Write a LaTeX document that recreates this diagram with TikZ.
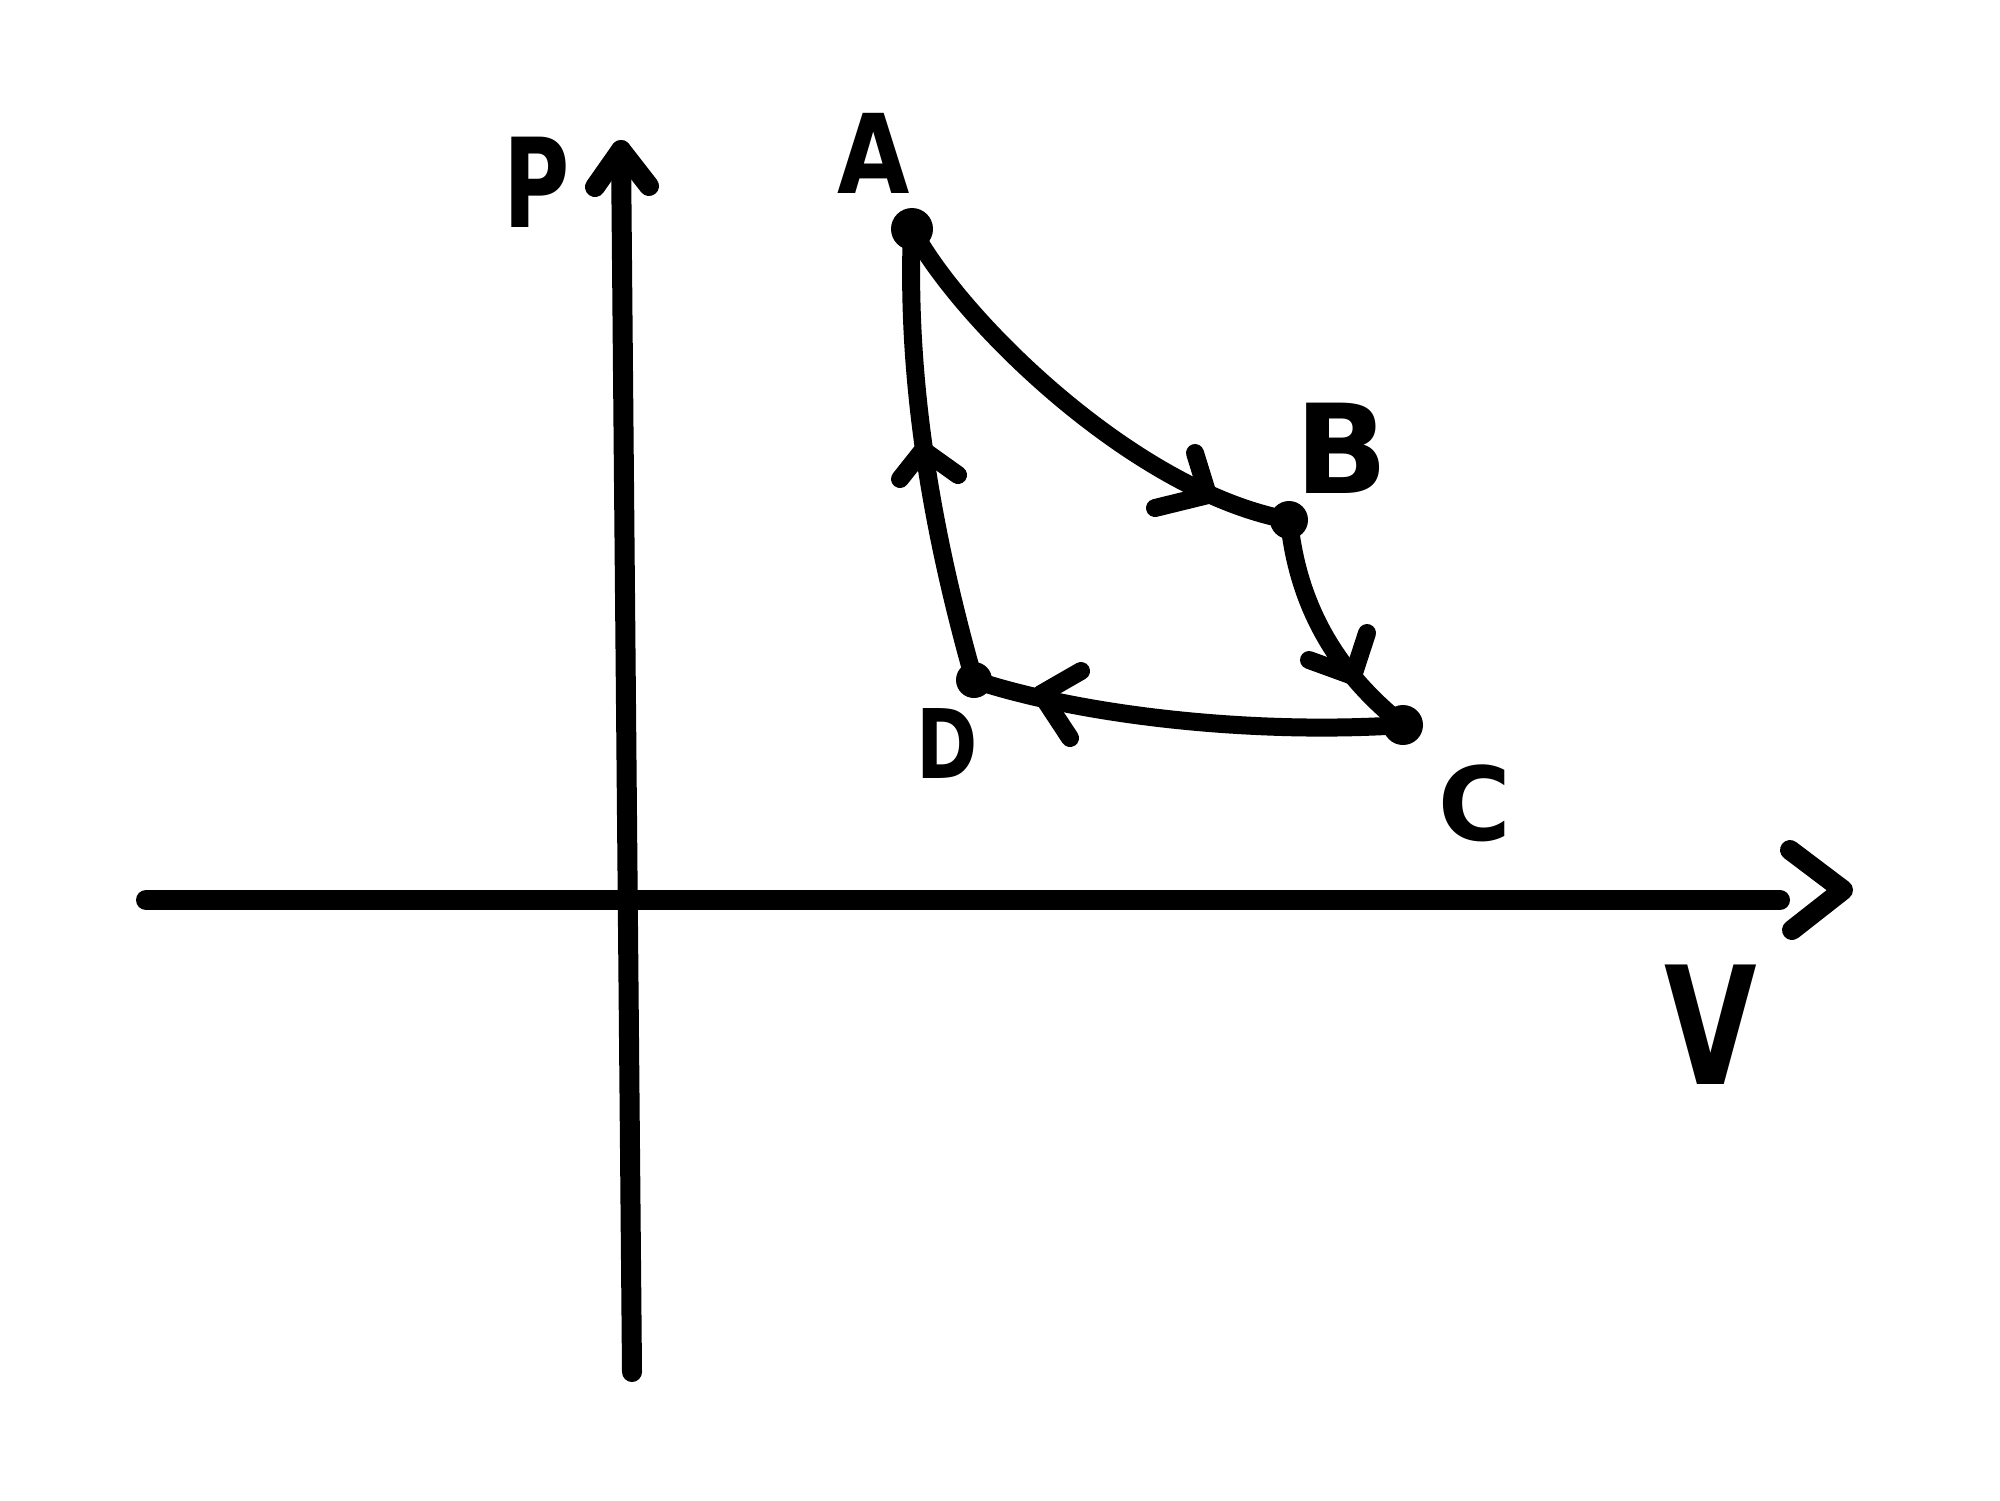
\documentclass[tikz,border=0pt]{standalone}
\usepackage{graphicx}
\usepackage{fontspec}
\setmainfont{DejaVu Sans}
\begin{document}
\begin{tikzpicture}[x=0.5pt,y=-0.5pt,
  curveline/.style={line width=9pt,line cap=round,line join=round},
  axisline/.style={line width=10pt,line cap=round,line join=round},
  dot/.style={circle,fill=black,inner sep=0pt,minimum size=#1},
  lbl/.style={inner sep=0pt,font=\bfseries\fontsize{#1}{#1}\selectfont}]
\useasboundingbox (0,0) rectangle (2000,1500);
\fill[white] (0,0) rectangle (2000,1500);
% axes
\coordinate (ybot) at (632,1372);
\coordinate (ytop) at (621,150);
\coordinate (xl) at (146,900);
\coordinate (xr) at (1780,900);
\draw[axisline] (ybot) -- (ytop);
\draw[axisline] (595,187) -- (ytop) -- (649,186);
\draw[axisline] (xl) -- (xr);
\draw[axisline] (1790,850) -- (1843,890) -- (1792,930);
\node[lbl=62] (P) at (537,182) {\scalebox{0.73}[1]{P}};
\node[lbl=82] (V) at (1711,1025) {\scalebox{0.73}[1]{V}};
% states
\node[dot=21pt] (A) at (912,229) {};
\node[dot=19pt] (B) at (1289,520) {};
\node[dot=20pt] (C) at (1403,725) {};
\node[dot=18pt] (D) at (974,680) {};
\node[lbl=55] (lA) at (874,153) {\scalebox{0.85}[1]{A}};
\node[lbl=62] (lB) at (1342,448) {\scalebox{0.98}[1]{B}};
\node[lbl=51] (lC) at (1475,803) {\scalebox{0.97}[1]{C}};
\node[lbl=48] (lD) at (947,743) {\scalebox{0.77}[1]{D}};
% process curves
\draw[curveline] (A.center) .. controls (960,320) and (1135,492) .. (B.center);
\draw[curveline] (B.center) .. controls (1298,610) and (1340,675) .. (C.center);
\draw[curveline] (C.center) .. controls (1250,735) and (1080,715) .. (D.center);
\draw[curveline] (D.center) .. controls (940,560) and (905,400) .. (A.center);
% direction marks
\draw[curveline] (1195,453) -- (1208,495) -- (1155,508);
\draw[curveline] (1309,660) -- (1353,676) -- (1367,633);
\draw[curveline] (1081,671) -- (1041,694) -- (1070,738);
\draw[curveline] (900,479) -- (923,450) -- (958,475);
\end{tikzpicture}
\end{document}
